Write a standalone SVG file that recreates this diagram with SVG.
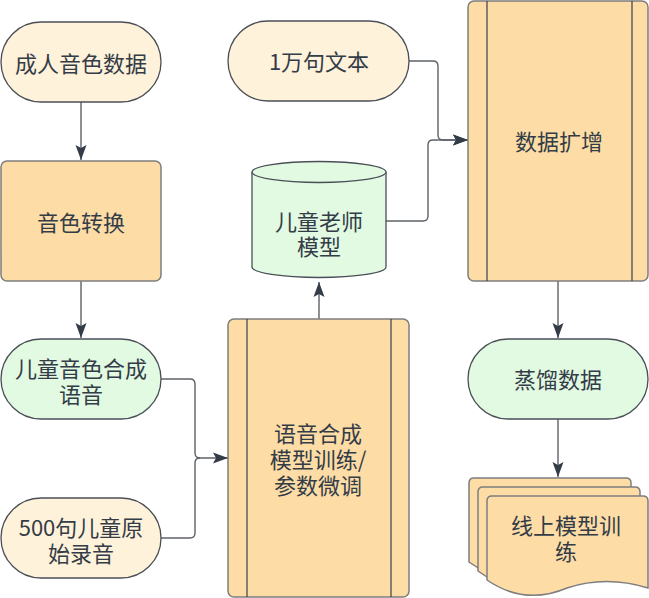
<svg xmlns="http://www.w3.org/2000/svg" width="649" height="598" viewBox="0 0 649 598">
<defs>
<style>
.t{font-family:"Noto Sans CJK SC","Liberation Sans",sans-serif;font-size:22px;fill:#333c47;text-anchor:middle;dominant-baseline:central}
.cream{fill:#fff2da;stroke:#4a4f57;stroke-width:1.3}
.green{fill:#e2f9e2;stroke:#4a4f57;stroke-width:1.3}
.orange{fill:#fddca6;stroke:#7d7d7d;stroke-width:1.5}
.inner{stroke:#3a3f46;stroke-width:1.2;fill:none}
.c{fill:none;stroke:#5d6168;stroke-width:1.4}
</style>
<marker id="ah" markerUnits="userSpaceOnUse" markerWidth="16" markerHeight="12" refX="15" refY="6" orient="auto">
<path d="M0,0.5 L15,6 L0,11.5 L3,6 Z" fill="#333c47"/>
</marker>
</defs>

<g id="connectors">
<path class="c" d="M81,102 L81,160" marker-end="url(#ah)"/>
<path class="c" d="M81,281 L81,338" marker-end="url(#ah)"/>
<path class="c" d="M161,379 L190,379 Q195,379 195,384 L195,453 Q195,458 200,458 L228,458" marker-end="url(#ah)"/>
<path class="c" d="M161,538 L190,538 Q195,538 195,533 L195,463 Q195,458 200,458"/>
<path class="c" d="M319,319 L319,282" marker-end="url(#ah)"/>
<path class="c" d="M409,61 L433,61 Q438,61 438,66 L438,135 Q438,140 443,140 L468,140" marker-end="url(#ah)"/>
<path class="c" d="M386,221 L423,221 Q428,221 428,216 L428,145 Q428,140 433,140 L468,140" marker-end="url(#ah)"/>
<path class="c" d="M558,281 L558,338" marker-end="url(#ah)"/>
<path class="c" d="M558,419 L558,477" marker-end="url(#ah)"/>
</g>

<g id="n1">
<rect class="cream" x="1" y="22" width="160" height="80" rx="40" ry="40"/>
<text class="t" x="81" y="62">成人音色数据</text>
</g>

<g id="n2">
<rect class="orange" x="1" y="161" width="160" height="120" rx="6" ry="6"/>
<text class="t" x="81" y="221">音色转换</text>
</g>

<g id="n3">
<rect class="green" x="1" y="339" width="160" height="80" rx="40" ry="40"/>
<text class="t" x="81" y="367">儿童音色合成</text>
<text class="t" x="81" y="393">语音</text>
</g>

<g id="n4">
<rect class="cream" x="1" y="498" width="160" height="80" rx="40" ry="40"/>
<text class="t" x="81" y="526">500句儿童原</text>
<text class="t" x="81" y="552">始录音</text>
</g>

<g id="n5">
<rect class="cream" x="228" y="21" width="181" height="80" rx="40" ry="40"/>
<text class="t" x="319" y="60">1万句文本</text>
</g>

<g id="n6">
<path class="green" d="M252,172 L252,267 A67,10.5 0 0 0 386,267 L386,172 A67,10.5 0 0 0 252,172 Z"/>
<path class="green" d="M252,172 A67,10.5 0 0 0 386,172" fill="none"/>
<text class="t" x="319" y="220">儿童老师</text>
<text class="t" x="319" y="245">模型</text>
</g>

<g id="n7">
<rect class="orange" x="228" y="319" width="181" height="278" rx="6" ry="6"/>
<line class="inner" x1="247" y1="319" x2="247" y2="597"/>
<line class="inner" x1="391" y1="319" x2="391" y2="597"/>
<text class="t" x="318" y="432">语音合成</text>
<text class="t" x="318" y="458">模型训练/</text>
<text class="t" x="318" y="484">参数微调</text>
</g>

<g id="n8">
<rect class="orange" x="468" y="1" width="180" height="280" rx="6" ry="6"/>
<line class="inner" x1="487" y1="1" x2="487" y2="281"/>
<line class="inner" x1="632" y1="1" x2="632" y2="281"/>
<text class="t" x="559" y="140">数据扩增</text>
</g>

<g id="n9">
<rect class="green" x="468" y="339" width="180" height="80" rx="40" ry="40"/>
<text class="t" x="558" y="378">蒸馏数据</text>
</g>

<g id="n10">
<path class="orange" d="M469,562 L469,483 Q469,478 474,478 L626,478 Q631,478 631,483 L631,570 Q589,557 551,573 Q507,590 469,562 Z"/>
<path class="orange" d="M478,571 L478,492 Q478,487 483,487 L635,487 Q640,487 640,492 L640,579 Q598,566 560,582 Q516,599 478,571 Z"/>
<path class="orange" d="M487,580 L487,501 Q487,496 492,496 L643,496 Q648,496 648,501 L648,588 Q606,575 567,588 Q525,606 487,580 Z"/>
<text class="t" x="566" y="524">线上模型训</text>
<text class="t" x="566" y="550">练</text>
</g>
</svg>
